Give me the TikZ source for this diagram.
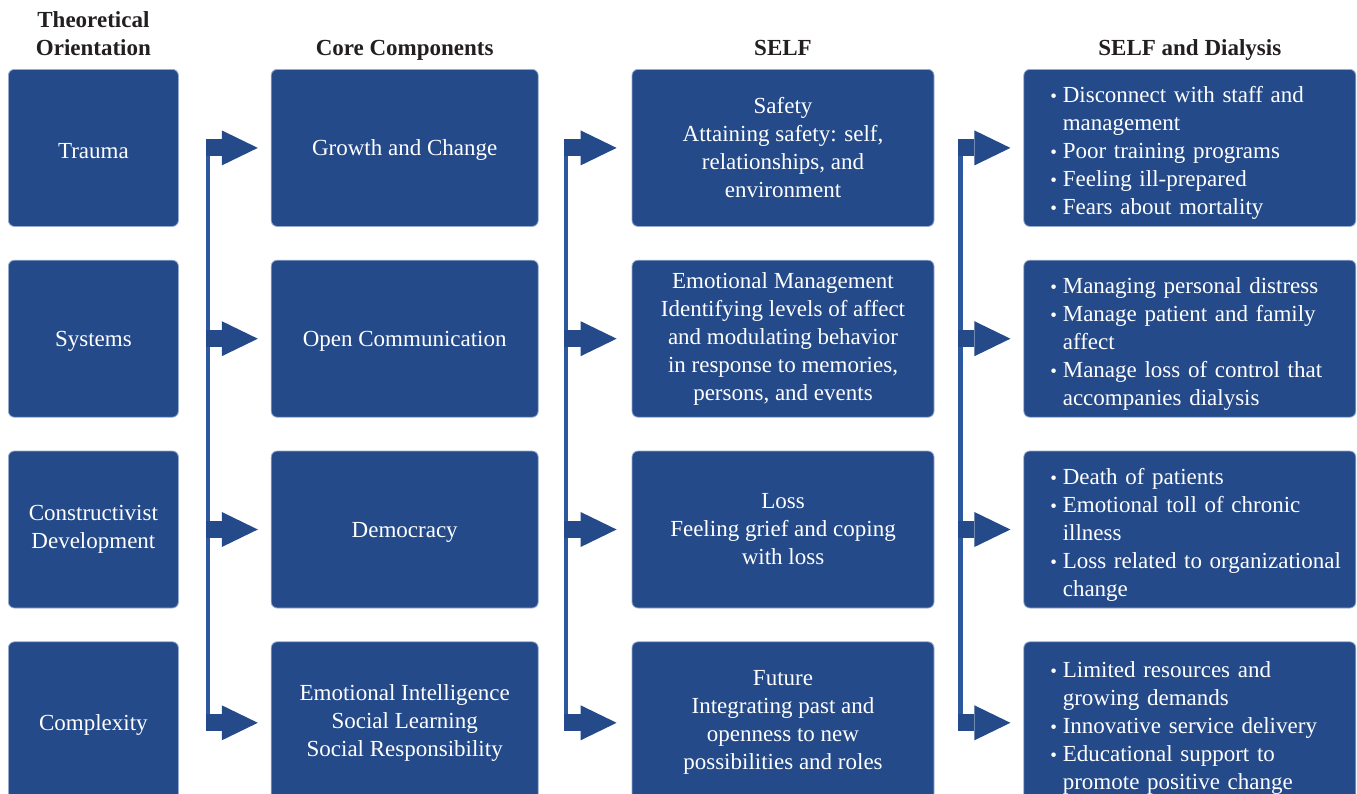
\documentclass[tikz,border=0pt]{standalone}
\usepackage{fontspec}
\setmainfont{Liberation Serif}
\usetikzlibrary{positioning,arrows.meta}
\definecolor{boxblue}{RGB}{36,74,138}
\definecolor{boxedge}{RGB}{150,170,205}
\definecolor{barblue}{RGB}{44,88,160}
\definecolor{headgray}{RGB}{35,31,32}
\newcommand{\bl}[1]{\mbox{\makebox[18pt][c]{\fontsize{19}{28}\selectfont\textbullet}#1}}
\newcommand{\cl}[1]{\mbox{\hspace*{18pt}#1}}

\begin{document}
\begin{tikzpicture}[x=1pt,y=1pt,
font=\fontsize{23}{28}\selectfont,
box/.style={draw=boxedge,line width=0.8pt,fill=boxblue,rounded corners=6pt,text=white,align=center,minimum height=157pt,execute at begin node={\rule{0pt}{21pt}}},
theory/.style={box,minimum width=170pt},
core/.style={box,minimum width=267pt},
self/.style={box,minimum width=302pt},
dial/.style={box,align=left,text width=290pt,inner xsep=21pt,execute at begin node={\rule{0pt}{26pt}}},
head/.style={font=\fontsize{23}{28}\selectfont\bfseries,text=headgray,align=center,inner sep=0pt},
flow/.style={boxblue,line width=17pt,-{Triangle[length=36pt,width=35pt,line width=0pt]}},
bar/.style={barblue,line width=4.5pt}]

\useasboundingbox (0,0) rectangle (1357,-793);
\clip (0,0) rectangle (1357,-793);

\node[theory,anchor=north west](t1) at (8,-69) {Trauma};
\node[theory,below=33pt of t1](t2) {Systems};
\node[theory,below=33pt of t2](t3) {Constructivist\\Development};
\node[theory,below=33pt of t3,minimum height=162pt](t4) {Complexity};

\node[core,right=92pt of t1](c1) {Growth and Change};
\node[core,right=92pt of t2](c2) {Open Communication};
\node[core,right=92pt of t3](c3) {Democracy};
\node[core,right=92pt of t4,minimum height=162pt](c4) {Emotional Intelligence\\Social Learning\\Social Responsibility};

\node[self,right=93pt of c1](s1) {Safety\\Attaining safety: self,\\relationships, and\\environment};
\node[self,right=93pt of c2](s2) {Emotional Management\\Identifying levels of affect\\and modulating behavior\\in response to memories,\\persons, and events};
\node[self,right=93pt of c3](s3) {Loss\\Feeling grief and coping\\with loss};
\node[self,right=93pt of c4,minimum height=162pt](s4) {Future\\Integrating past and\\openness to new\\possibilities and roles};

\node[dial,right=89pt of s1](d1) {\bl{Disconnect with staff and}\\\cl{management}\\\bl{Poor training programs}\\\bl{Feeling ill-prepared}\\\bl{Fears about mortality}};
\node[dial,right=89pt of s2](d2) {\bl{Managing personal distress}\\\bl{Manage patient and family}\\\cl{affect}\\\bl{Manage loss of control that}\\\cl{accompanies dialysis}};
\node[dial,right=89pt of s3](d3) {\bl{Death of patients}\\\bl{Emotional toll of chronic}\\\cl{illness}\\\bl{Loss related to organizational}\\\cl{change}};
\node[dial,right=89pt of s4,minimum height=162pt](d4) {\bl{Limited resources and}\\\cl{growing demands}\\\bl{Innovative service delivery}\\\bl{Educational support to}\\\cl{promote positive change}};

\node[head,anchor=base](h1) at ([yshift=14pt]t1.north) {Theoretical\\Orientation};
\node[head,anchor=base](h2) at ([yshift=14pt]c1.north) {Core Components};
\node[head,anchor=base](h3) at ([yshift=14pt]s1.north) {SELF};
\node[head,anchor=base](h4) at ([yshift=14pt]d1.north) {SELF and Dialysis};

\draw[bar] ([xshift=29pt,yshift=8.5pt]t1.east) -- ([xshift=29pt,yshift=-8.5pt]t4.east);
\draw[bar] ([xshift=27.5pt,yshift=8.5pt]c1.east) -- ([xshift=27.5pt,yshift=-8.5pt]c4.east);
\draw[bar] ([xshift=26pt,yshift=8.5pt]s1.east) -- ([xshift=26pt,yshift=-8.5pt]s4.east);

\draw[flow] ([xshift=27pt]t1.east) -- ([xshift=-13pt]c1.west);
\draw[flow] ([xshift=27pt]t2.east) -- ([xshift=-13pt]c2.west);
\draw[flow] ([xshift=27pt]t3.east) -- ([xshift=-13pt]c3.west);
\draw[flow] ([xshift=27pt]t4.east) -- ([xshift=-13pt]c4.west);
\draw[flow] ([xshift=25pt]c1.east) -- ([xshift=-15pt]s1.west);
\draw[flow] ([xshift=25pt]c2.east) -- ([xshift=-15pt]s2.west);
\draw[flow] ([xshift=25pt]c3.east) -- ([xshift=-15pt]s3.west);
\draw[flow] ([xshift=25pt]c4.east) -- ([xshift=-15pt]s4.west);
\draw[flow] ([xshift=24pt]s1.east) -- ([xshift=-13pt]d1.west);
\draw[flow] ([xshift=24pt]s2.east) -- ([xshift=-13pt]d2.west);
\draw[flow] ([xshift=24pt]s3.east) -- ([xshift=-13pt]d3.west);
\draw[flow] ([xshift=24pt]s4.east) -- ([xshift=-13pt]d4.west);
\end{tikzpicture}
\end{document}
